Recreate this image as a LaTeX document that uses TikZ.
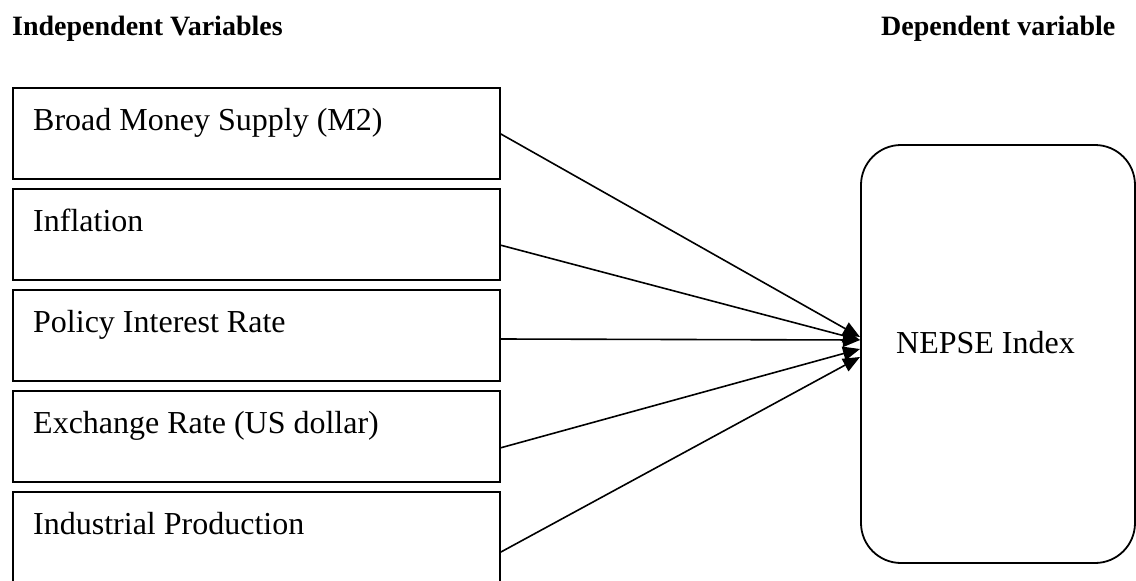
\documentclass[tikz,border=0pt]{standalone}
\usepackage{fontspec}
\setmainfont{Liberation Serif}
\usetikzlibrary{arrows.meta}
\begin{document}
\begin{tikzpicture}[x=1pt,y=-1pt,
  varbox/.style={draw, line width=1.8pt, rectangle, anchor=north west, minimum width=487pt, minimum height=91pt, inner sep=0pt, outer sep=0pt},
  bodytxt/.style={anchor=base west, inner sep=0pt, font=\fontsize{32}{38}\selectfont},
  headtxt/.style={anchor=base west, inner sep=0pt, font=\fontsize{28}{34}\selectfont\bfseries},
  arr/.style={line width=1.6pt, -{Triangle[length=17pt,width=14pt]}}]
\useasboundingbox (0,0) rectangle (1136,581);
% headers
\node[headtxt] (hind) at (12,35) {Independent Variables};
\node[headtxt] (hdep) at (881,35) {Dependent variable};
% independent boxes
\node[varbox] (b1) at (13,88) {};
\node[varbox] (b2) at (13,189) {};
\node[varbox] (b3) at (13,290) {};
\node[varbox] (b4) at (13,391) {};
\node[varbox] (b5) at (13,492) {};
\node[bodytxt] (t1) at (33,130) {Broad Money Supply (M2)};
\node[bodytxt] (t2) at (33,231) {Inflation};
\node[bodytxt] (t3) at (33,332) {Policy Interest Rate};
\node[bodytxt] (t4) at (33,433) {Exchange Rate (US dollar)};
\node[bodytxt] (t5) at (33,534) {Industrial Production};
% dependent box
\node[draw, line width=1.8pt, rounded corners=40pt, anchor=north west, minimum width=274pt, minimum height=418pt, inner sep=0pt, outer sep=0pt] (nep) at (861,145) {};
\node[bodytxt] (tn) at (896,353) {NEPSE Index};
% arrows
\draw[arr] (b1.east) -- ([xshift=-1pt,yshift=17pt]nep.west);
\draw[arr] ([yshift=-10.5pt]b2.east) -- ([xshift=-1pt,yshift=14pt]nep.west);
\draw[arr] ([yshift=-3.5pt]b3.east) -- ([xshift=-1pt,yshift=14pt]nep.west);
\draw[arr] ([yshift=-11.5pt]b4.east) -- ([xshift=-1pt,yshift=5pt]nep.west);
\draw[arr] ([yshift=-15pt]b5.east) -- ([xshift=-1pt,yshift=-3pt]nep.west);
\end{tikzpicture}
\end{document}
